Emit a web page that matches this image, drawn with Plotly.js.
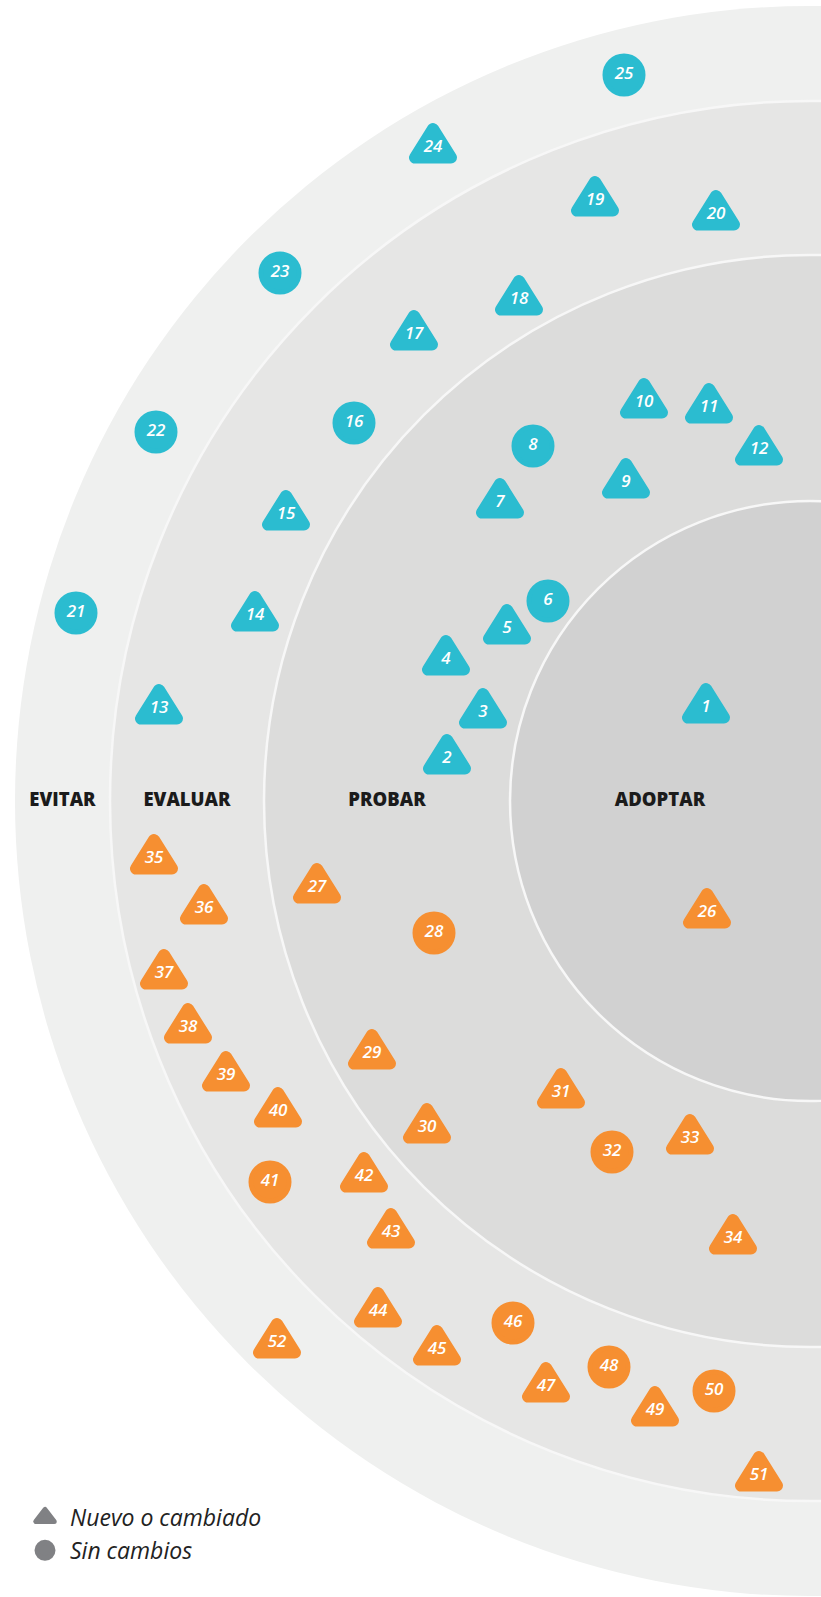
<!DOCTYPE html>
<html>
<head>
<meta charset="utf-8">
<script src="https://cdn.plot.ly/plotly-3.0.1.min.js"></script>
<style>
  html, body { margin: 0; padding: 0; background: #ffffff; }
  #chart { width: 821px; height: 1597px; }
  .js-plotly-plot path.point, .js-plotly-plot .scatterpts,
  .js-plotly-plot path.js-line, .js-plotly-plot path.js-fill { stroke-linejoin: round !important; stroke-linecap: round !important; }
</style>
</head>
<body>
<div id="chart"></div>
<script>
// ---- Data ----
const ringNames = ['ADOPTAR', 'PROBAR', 'EVALUAR', 'EVITAR'];
const ringRadii = [300, 546, 700, 795];          // outer radius of each ring
const ringColors = ['#d1d1d1', '#dcdcdb', '#e6e6e5', '#eff0ef'];

const legendNames = ['Nuevo o cambiado', 'Sin cambios'];

const itemIds = [1,2,3,4,5,6,7,8,9,10,11,12,13,14,15,16,17,18,19,20,21,22,23,24,25,
                 26,27,28,29,30,31,32,33,34,35,36,37,38,39,40,41,42,43,44,45,46,47,48,49,50,51,52];
// position of each blip (radar units, centre at 0,0)
const itemX = [-104,-363,-327,-364,-303,-262,-310,-277,-184,-166,-101,-51,-651,-555,-524,-456,-396,-291,-215,-94,-734,-654,-530,-377,-186,
               -103,-493,-376,-438,-383,-249,-198,-120,-77,-656,-606,-646,-622,-584,-532,-540,-446,-419,-432,-373,-297,-264,-201,-155,-96,-51,-533];
const itemY = [93,42,88,141,172,200,298,355,318,398,393,351,92,185,286,378,466,501,600,586,188,369,528,653,726,
               -112,-87,-132,-253,-327,-292,-351,-338,-438,-58,-108,-173,-227,-275,-311,-381,-376,-432,-511,-549,-522,-586,-566,-610,-590,-675,-542];
// "Sin cambios" items (circles); all others are "Nuevo o cambiado" (triangles)
const unchangedIds = [6,8,16,21,22,23,25,28,32,41,46,48,50];
const itemIsNew = itemIds.map(id => unchangedIds.indexOf(id) < 0);
const halfColors = { top: '#2bbcd0', bottom: '#f68f31' };
const legendColor = '#808184';

// ---- Style constants ----
const TRI_HALF = 18, TRI_UP = 19, TRI_DOWN = 9.6, TRI_ROUND = 12;
const CIRCLE_SIZE = 38, CIRCLE_LINE = 5;
const numFont = { family: 'Open Sans, sans-serif', size: 17, weight: 600, style: 'italic', color: '#ffffff' };

// ---- Build ----
const shapes = [];
for (let i = ringRadii.length - 1; i >= 0; i--) {
  const r = ringRadii[i];
  const outer = i === ringRadii.length - 1;
  shapes.push({
    type: 'circle', xref: 'x', yref: 'y', layer: 'below',
    x0: -r, x1: r, y0: -r, y1: r,
    fillcolor: ringColors[i],
    line: { color: outer ? ringColors[i] : '#f7f7f7', width: outer ? 0 : 2.5 }
  });
}
shapes.push({ type: 'rect', xref: 'paper', yref: 'y', layer: 'below',
  x0: 0, x1: 1, y0: -14, y1: 14, fillcolor: 'rgba(255,255,255,0.45)', line: { width: 0 } });
shapes.push({ type: 'rect', xref: 'x', yref: 'paper', layer: 'below',
  x0: -12, x1: 20, y0: 0, y1: 1, fillcolor: 'rgba(255,255,255,0.45)', line: { width: 0 } });

const traces = [];
const labelX = ringRadii.map((r, i) => -((i === 0 ? 0 : ringRadii[i - 1]) + r) / 2);
traces.push({
  type: 'scatter', mode: 'text', x: labelX, y: ringNames.map(() => 0),
  text: ringNames, textposition: 'middle center', hoverinfo: 'skip', showlegend: false,
  textfont: { family: 'Open Sans, sans-serif', size: 18.5, weight: 800, color: '#1b1b1b' }
});

function pick(isNew, half) {
  return itemIds.map((_, i) => i).filter(i =>
    itemIsNew[i] === isNew && ((itemY[i] >= 0) === (half === 'top')));
}
function triangleTrace(half) {
  const xs = [], ys = [];
  pick(true, half).forEach(i => {
    const x = itemX[i], y = itemY[i];
    // start mid-base so the path ends on a straight edge
    xs.push(x, x + TRI_HALF, x, x - TRI_HALF, x, null);
    ys.push(y - TRI_DOWN, y - TRI_DOWN, y + TRI_UP, y - TRI_DOWN, y - TRI_DOWN, null);
  });
  const c = halfColors[half];
  return { type: 'scatter', mode: 'lines', x: xs, y: ys, fill: 'toself', fillcolor: c,
    line: { color: c, width: TRI_ROUND }, connectgaps: false, hoverinfo: 'skip', showlegend: false };
}
function circleTrace(half) {
  const idx = pick(false, half);
  const c = halfColors[half];
  return { type: 'scatter', mode: 'markers', x: idx.map(i => itemX[i]), y: idx.map(i => itemY[i]),
    marker: { symbol: 'circle', size: CIRCLE_SIZE, color: c, line: { color: c, width: CIRCLE_LINE } },
    hoverinfo: 'skip', showlegend: false };
}
traces.push(triangleTrace('top'), triangleTrace('bottom'), circleTrace('top'), circleTrace('bottom'));
traces.push({ type: 'scatter', mode: 'text', x: itemX, y: itemY, text: itemIds.map(String),
  textposition: 'middle center', textfont: numFont, hoverinfo: 'text', showlegend: false });

// legend entries
traces.push({ type: 'scatter', mode: 'markers', x: [null], y: [null], name: legendNames[0],
  marker: { symbol: 'triangle-up', size: 16, color: legendColor, line: { color: legendColor, width: 5 } } });
traces.push({ type: 'scatter', mode: 'markers', x: [null], y: [null], name: legendNames[1],
  marker: { symbol: 'circle', size: 16, color: legendColor, line: { color: legendColor, width: 5 } } });

const layout = {
  width: 821, height: 1597,
  margin: { l: 0, r: 0, t: 0, b: 0, pad: 0 },
  paper_bgcolor: '#ffffff', plot_bgcolor: 'rgba(0,0,0,0)',
  xaxis: { range: [-810, 11], visible: false, fixedrange: true },
  yaxis: { range: [-796, 801], visible: false, fixedrange: true },
  shapes: shapes,
  showlegend: true,
  legend: {
    x: 20 / 821, y: 1 - 1496 / 1597, xanchor: 'left', yanchor: 'top',
    itemwidth: 40,
    bgcolor: 'rgba(0,0,0,0)', borderwidth: 0,
    font: { family: 'Open Sans, sans-serif', size: 23, style: 'italic', color: '#222222' },
    itemclick: false, itemdoubleclick: false
  }
};

Plotly.newPlot('chart', traces, layout, { staticPlot: true, displayModeBar: false });
</script>
</body>
</html>
